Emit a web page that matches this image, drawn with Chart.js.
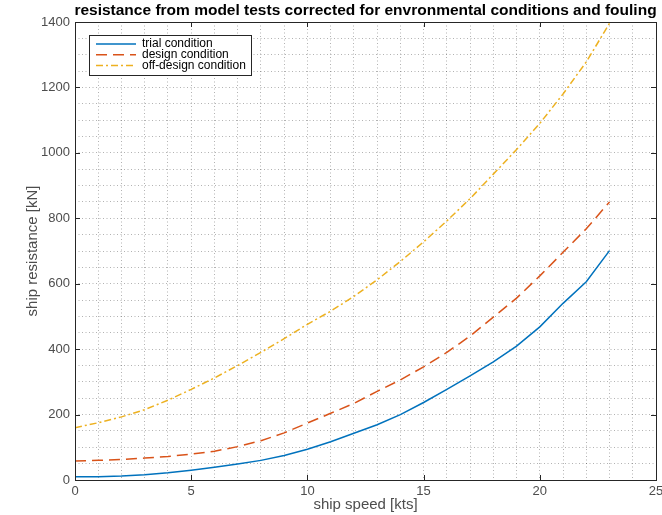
<!DOCTYPE html>
<html>
<head>
<meta charset="utf-8">
<script src="https://cdn.jsdelivr.net/npm/chart.js@4"></script>
<style>
  html, body { margin: 0; padding: 0; background: #fff; }
  #wrap { width: 662px; height: 515px; }
</style>
</head>
<body>
<div id="wrap"><canvas id="resistanceChart" width="662" height="515"></canvas></div>
<script>
// ship speed in knots
const speedKts = [0, 1, 2, 3, 4, 5, 6, 7, 8, 9, 10, 11, 12, 13, 14, 15, 16, 17, 18, 19, 20, 21, 22, 23];

// resistance in kN
const trialCondition = [10, 10, 12, 16, 22, 30, 39, 49, 60, 75, 94, 117, 143, 169, 200, 237, 277, 318, 361, 409, 468, 540, 606, 701];
const designCondition = [58, 60, 63, 67, 72, 79, 88, 102, 120, 144, 174, 204, 234, 271, 306, 346, 390, 440, 498, 556, 624, 696, 768, 850];
const offDesignCondition = [160, 175, 193, 215, 244, 277, 312, 350, 390, 432, 476, 516, 561, 612, 668, 728, 792, 860, 935, 1010, 1090, 1180, 1278, 1396];

const chartTitle = 'resistance from model tests corrected for envronmental conditions and fouling';

const xMajorStep = 5;
const yMajorStep = 200;

const FONT = "'Liberation Sans', Arial, Helvetica, sans-serif";
const AXIS_COLOR = '#262626';
const TEXT_COLOR = '#4d4d4d';

function toPoints(values) {
    return speedKts.map((v, i) => ({ x: v, y: values[i] }));
}

// title centred over the plot area (not the whole canvas)
const plotTitle = {
    id: 'plotTitle',
    afterDraw(chart) {
        const { ctx, chartArea: a } = chart;
        ctx.save();
        ctx.font = 'bold 15.5px ' + FONT;
        ctx.fillStyle = '#000';
        ctx.textAlign = 'center';
        ctx.textBaseline = 'middle';
        ctx.fillText(chartTitle, (a.left + a.right) / 2, 11);
        ctx.restore();
    }
};

// axes box + inward major ticks on all four sides
const axesBox = {
    id: 'axesBox',
    afterDatasetsDraw(chart) {
        const { ctx, chartArea: a, scales: { x, y } } = chart;
        ctx.save();
        ctx.strokeStyle = AXIS_COLOR;
        ctx.lineWidth = 1;
        ctx.beginPath();
        for (let v = xMajorStep; v < x.max; v += xMajorStep) {
            const px = Math.round(x.getPixelForValue(v)) + 0.5;
            ctx.moveTo(px, a.bottom); ctx.lineTo(px, a.bottom - 5);
            ctx.moveTo(px, a.top); ctx.lineTo(px, a.top + 5);
        }
        for (let v = yMajorStep; v < y.max; v += yMajorStep) {
            const py = Math.round(y.getPixelForValue(v)) + 0.5;
            ctx.moveTo(a.left, py); ctx.lineTo(a.left + 5, py);
            ctx.moveTo(a.right, py); ctx.lineTo(a.right - 5, py);
        }
        ctx.stroke();
        ctx.strokeRect(Math.round(a.left) + 0.5, Math.round(a.top) + 0.5,
            Math.round(a.right - a.left), Math.round(a.bottom - a.top));
        ctx.restore();
    }
};

// legend drawn inside the plot, top left
const insideLegend = {
    id: 'insideLegend',
    afterDraw(chart) {
        const { ctx, chartArea: a } = chart;
        const sets = chart.data.datasets;
        const left = a.left + 14, top = a.top + 13;
        const w = 162, rowH = 10.8, h = 40;
        ctx.save();
        ctx.fillStyle = '#fff';
        ctx.fillRect(left, top, w, h);
        ctx.strokeStyle = AXIS_COLOR;
        ctx.lineWidth = 1;
        ctx.strokeRect(left + 0.5, top + 0.5, w, h);
        ctx.font = '12px ' + FONT;
        ctx.textBaseline = 'middle';
        sets.forEach((ds, i) => {
            const cy = top + 9 + i * rowH;
            ctx.strokeStyle = ds.borderColor;
            ctx.lineWidth = ds.borderWidth;
            ctx.setLineDash(ds.borderDash || []);
            ctx.beginPath();
            ctx.moveTo(left + 7, cy);
            ctx.lineTo(left + 47, cy);
            ctx.stroke();
            ctx.setLineDash([]);
            ctx.fillStyle = '#000';
            ctx.fillText(ds.label, left + 53, cy);
        });
        ctx.restore();
    }
};

const ctx = document.getElementById('resistanceChart').getContext('2d');
new Chart(ctx, {
    type: 'line',
    data: {
        datasets: [{
            label: 'trial condition',
            data: toPoints(trialCondition),
            borderColor: '#0072BD',
            borderWidth: 1.5,
            pointRadius: 0,
            tension: 0
        }, {
            label: 'design condition',
            data: toPoints(designCondition),
            borderColor: '#D95319',
            borderWidth: 1.5,
            borderDash: [11, 6],
            pointRadius: 0,
            tension: 0
        }, {
            label: 'off-design condition',
            data: toPoints(offDesignCondition),
            borderColor: '#EDB120',
            borderWidth: 1.5,
            borderDash: [7, 3, 2, 3],
            pointRadius: 0,
            tension: 0
        }]
    },
    options: {
        responsive: false,
        animation: false,
        layout: { padding: { left: 0, right: 6, top: 22, bottom: 0 } },
        plugins: {
            legend: { display: false },
            tooltip: { enabled: false },
            title: { display: false }
        },
        scales: {
            x: {
                type: 'linear',
                min: 0,
                max: 25,
                grid: { color: 'rgba(0,0,0,0.3)', lineWidth: 1, drawTicks: false },
                border: { display: false, dash: [1, 2.5] },
                ticks: {
                    stepSize: 1,
                    autoSkip: false,
                    maxTicksLimit: 100,
                    maxRotation: 0,
                    padding: 4,
                    color: TEXT_COLOR,
                    font: { family: FONT, size: 13 },
                    callback: v => (v % xMajorStep === 0 ? v : '')
                },
                title: {
                    display: true,
                    text: 'ship speed [kts]',
                    color: TEXT_COLOR,
                    font: { family: FONT, size: 15 },
                    padding: { top: 0, bottom: 1 }
                },
                afterFit(s) { s.height = 35; s.paddingLeft = 0; s.paddingRight = 0; }
            },
            y: {
                min: 0,
                max: 1400,
                grid: { color: 'rgba(0,0,0,0.3)', lineWidth: 1, drawTicks: false },
                border: { display: false, dash: [1, 2.5] },
                ticks: {
                    stepSize: 50,
                    autoSkip: false,
                    maxTicksLimit: 100,
                    padding: 5,
                    color: TEXT_COLOR,
                    font: { family: FONT, size: 13 },
                    callback: v => (v % yMajorStep === 0 ? v : '')
                },
                title: {
                    display: true,
                    text: 'ship resistance [kN]',
                    color: TEXT_COLOR,
                    font: { family: FONT, size: 15 },
                    padding: { top: 24, bottom: 0 }
                },
                afterFit(s) { s.width = 75; s.paddingTop = 0; s.paddingBottom = 0; }
            }
        }
    },
    plugins: [axesBox, insideLegend, plotTitle]
});
</script>
</body>
</html>
